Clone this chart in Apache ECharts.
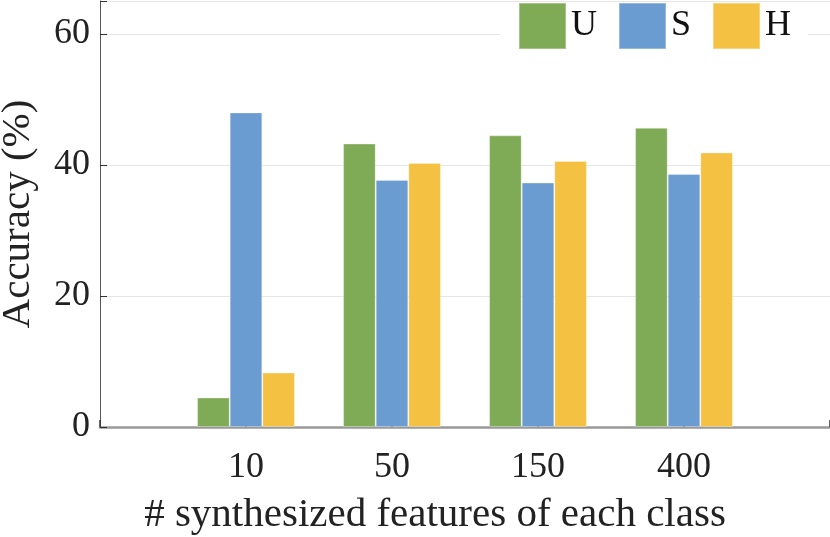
<!DOCTYPE html>
<html>
<head>
<meta charset="utf-8">
<script src="https://cdn.jsdelivr.net/npm/echarts@6/dist/echarts.min.js"></script>
<style>
html,body{margin:0;padding:0;background:#fff;}
#chart{width:830px;height:537px;}
</style>
</head>
<body>
<div id="chart"></div>
<script>
const categories = ['', '10', '50', '150', '400', ''];
const seriesNames = ['U', 'S', 'H'];
const valuesU = [null, 4.5, 43.25, 44.5, 45.65, null];
const valuesS = [null, 48.0, 37.7, 37.3, 38.6, null];
const valuesH = [null, 8.3, 40.3, 40.6, 41.9, null];
const yTicks = [0, 20, 40, 60];
const colors = ['#80ab56', '#6a9bd1', '#f5c143'];

const font = '"Liberation Serif", "Times New Roman", serif';
const chart = echarts.init(document.getElementById('chart'));
const mk = (name, data, i) => ({
  name: name,
  type: 'bar',
  data: data,
  barGap: '0%',
  barCategoryGap: '33%',
  itemStyle: {color: colors[i], borderColor: 'rgba(255,255,255,0.3)', borderWidth: 1},
  emphasis: {disabled: true}
});
chart.setOption({
  animation: false,
  textStyle: {fontFamily: font},
  legend: {
    data: seriesNames,
    top: 2,
    left: 500,
    backgroundColor: '#fff',
    padding: [0, 17, 0, 18],
    itemWidth: 47,
    itemHeight: 46,
    itemGap: 21,
    icon: 'rect',
    textStyle: {fontFamily: font, fontSize: 36, color: '#111'}
  },
  grid: {left: 100, right: 0, top: 1, bottom: 110, containLabel: false, outerBoundsMode: 'none'},
  xAxis: {
    type: 'category',
    data: categories,
    boundaryGap: false,
    name: '# synthesized features of each class',
    nameLocation: 'middle',
    nameGap: 68,
    nameTextStyle: {fontFamily: font, fontSize: 41, color: '#222', padding: [0, 60, 0, 0]},
    axisLine: {show: true, lineStyle: {color: '#999', width: 2.5}},
    axisTick: {show: true, inside: true, length: 7, lineStyle: {color: '#333', width: 1.5}},
    axisLabel: {fontFamily: font, fontSize: 36, color: '#222', margin: 23},
    splitLine: {show: false}
  },
  yAxis: {
    type: 'value',
    min: 0,
    max: 65,
    interval: 20,
    name: 'Accuracy (%)',
    nameLocation: 'middle',
    nameGap: 61,
    nameTextStyle: {fontFamily: font, fontSize: 41, color: '#222'},
    axisLine: {show: true, lineStyle: {color: '#555', width: 1}},
    axisTick: {show: true, inside: true, length: 7, lineStyle: {color: '#333', width: 1}},
    axisLabel: {fontFamily: font, fontSize: 36, color: '#222', margin: 10,
      formatter: v => yTicks.indexOf(v) >= 0 ? String(v) : ''},
    splitLine: {show: true, lineStyle: {color: '#e6e6e6', width: 1}}
  },
  series: [mk('U', valuesU, 0), mk('S', valuesS, 1), mk('H', valuesH, 2)]
});
</script>
</body>
</html>
